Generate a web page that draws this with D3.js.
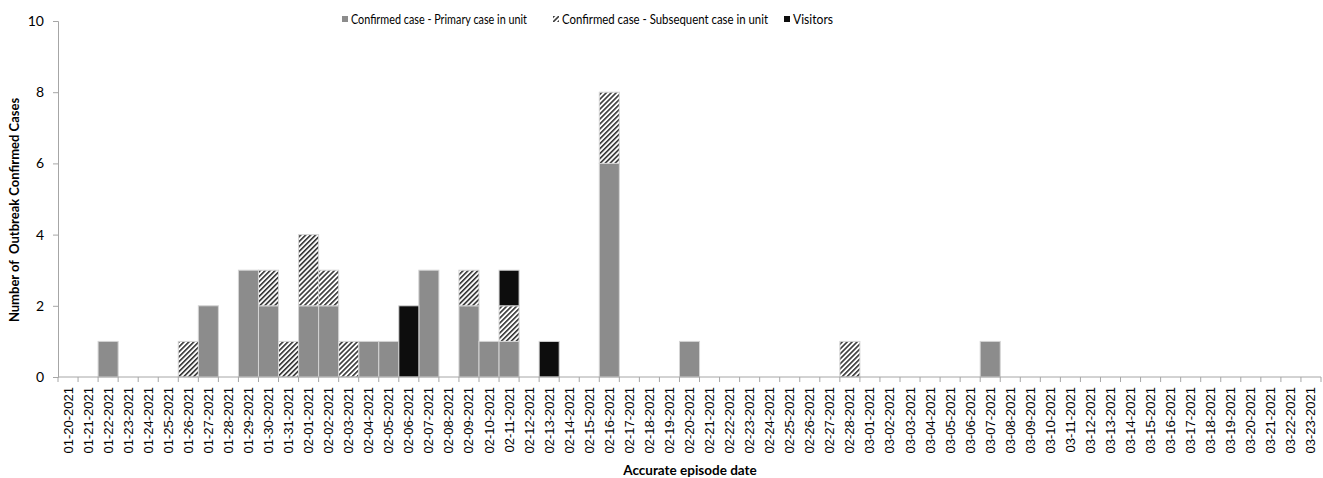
<!DOCTYPE html>
<html>
<head>
<meta charset="utf-8">
<script src="https://cdn.jsdelivr.net/npm/d3@7"></script>
<style>
  body { margin: 0; background: #fff; }
  svg { display: block; }
</style>
</head>
<body>
<div id="chart"></div>
<script>
// dates from the x axis, one per day
var dates = [
  "01-20-2021","01-21-2021","01-22-2021","01-23-2021","01-24-2021","01-25-2021","01-26-2021","01-27-2021","01-28-2021","01-29-2021","01-30-2021","01-31-2021",
  "02-01-2021","02-02-2021","02-03-2021","02-04-2021","02-05-2021","02-06-2021","02-07-2021","02-08-2021","02-09-2021","02-10-2021","02-11-2021","02-12-2021","02-13-2021","02-14-2021",
  "02-15-2021","02-16-2021","02-17-2021","02-18-2021","02-19-2021","02-20-2021","02-21-2021","02-22-2021","02-23-2021","02-24-2021","02-25-2021","02-26-2021","02-27-2021","02-28-2021",
  "03-01-2021","03-02-2021","03-03-2021","03-04-2021","03-05-2021","03-06-2021","03-07-2021","03-08-2021","03-09-2021","03-10-2021","03-11-2021","03-12-2021","03-13-2021","03-14-2021",
  "03-15-2021","03-16-2021","03-17-2021","03-18-2021","03-19-2021","03-20-2021","03-21-2021","03-22-2021","03-23-2021"
];

// counts per date: primary, subsequent, visitors
var primary = [
  0,0,1,0,0,0,0,2,0,3,2,0,
  2,2,0,1,1,0,3,0,2,1,1,0,0,0,
  0,6,0,0,0,1,0,0,0,0,0,0,0,0,
  0,0,0,0,0,0,1,0,0,0,0,0,0,0,
  0,0,0,0,0,0,0,0,0
];
var subsequent = [
  0,0,0,0,0,0,1,0,0,0,1,1,
  2,1,1,0,0,0,0,0,1,0,1,0,0,0,
  0,2,0,0,0,0,0,0,0,0,0,0,0,1,
  0,0,0,0,0,0,0,0,0,0,0,0,0,0,
  0,0,0,0,0,0,0,0,0
];
var visitors = [
  0,0,0,0,0,0,0,0,0,0,0,0,
  0,0,0,0,0,2,0,0,0,0,1,0,1,0,
  0,0,0,0,0,0,0,0,0,0,0,0,0,0,
  0,0,0,0,0,0,0,0,0,0,0,0,0,0,
  0,0,0,0,0,0,0,0,0
];

var seriesKeys = ["primary", "subsequent", "visitors"];
var seriesLabels = ["Confirmed case - Primary case in unit", "Confirmed case - Subsequent case in unit", "Visitors"];
var yTicks = [0, 2, 4, 6, 8, 10];

var width = 1323,
    height = 478,
    margin = {top: 21, right: 2, bottom: 101, left: 58};

var svg = d3.select("#chart").append("svg")
    .attr("width", width)
    .attr("height", height);

// hatch pattern for subsequent cases
var defs = svg.append("defs");
var pat = defs.append("pattern")
    .attr("id", "hatch")
    .attr("patternUnits", "userSpaceOnUse")
    .attr("width", 3.5)
    .attr("height", 3.5)
    .attr("patternTransform", "rotate(45)");
pat.append("rect").attr("width", 3.5).attr("height", 3.5).attr("fill", "#fff");
pat.append("rect").attr("x", 0).attr("width", 1.6).attr("height", 3.5).attr("fill", "#333");

var colors = {primary: "#8c8c8c", subsequent: "url(#hatch)", visitors: "#0d0d0d"};

var rows = dates.map(function(d, i) {
  return {date: d, primary: primary[i], subsequent: subsequent[i], visitors: visitors[i]};
});

var stack = d3.stack().keys(seriesKeys)(rows);

var x = d3.scaleBand()
    .domain(dates)
    .range([margin.left, width - margin.right])
    .padding(0);

var y = d3.scaleLinear()
    .domain([0, 10])
    .range([height - margin.bottom, margin.top]);

// bars
svg.append("g").selectAll("g")
  .data(stack)
  .enter().append("g")
    .attr("fill", function(d) { return colors[d.key]; })
  .selectAll("rect")
  .data(function(d) { return d.filter(function(p) { return p[1] > p[0]; }); })
  .enter().append("rect")
    .attr("x", function(d) { return x(d.data.date); })
    .attr("width", x.bandwidth())
    .attr("y", function(d) { return y(d[1]); })
    .attr("height", function(d) { return y(d[0]) - y(d[1]); })
    .attr("stroke", "#d4d4d4")
    .attr("stroke-width", 1);

// x axis
var xAxis = svg.append("g")
    .attr("transform", "translate(0," + (height - margin.bottom) + ")");
xAxis.append("line")
    .attr("x1", margin.left).attr("x2", width - margin.right)
    .attr("stroke", "#a6a6a6");
xAxis.selectAll(".tk")
  .data(dates.concat(["end"]))
  .enter().append("line")
    .attr("x1", function(d, i) { return i < dates.length ? x(d) : x.range()[1]; })
    .attr("x2", function(d, i) { return i < dates.length ? x(d) : x.range()[1]; })
    .attr("y1", 0).attr("y2", 5)
    .attr("stroke", "#a6a6a6");
xAxis.selectAll("text")
  .data(dates)
  .enter().append("text")
    .text(function(d) { return d; })
    .attr("transform", function(d) {
      return "translate(" + (x(d) + x.bandwidth() / 2 + 4.5) + ",10) rotate(-90)";
    })
    .attr("text-anchor", "end")
    .attr("font-family", "'Liberation Sans', Arial, sans-serif")
    .attr("font-size", "13px")
    .attr("fill", "#000");

// y axis
var yAxis = svg.append("g")
    .attr("transform", "translate(" + margin.left + ",0)")
    .call(d3.axisLeft(y).tickValues(yTicks).tickSize(5).tickPadding(9));
yAxis.select(".domain").attr("stroke", "#a6a6a6");
yAxis.selectAll(".tick line").attr("stroke", "#a6a6a6");
yAxis.selectAll(".tick text")
    .attr("font-family", "Lato, 'Open Sans', sans-serif")
    .attr("font-size", "14px")
    .attr("fill", "#000");

// axis titles
svg.append("text")
    .text("Number of  Outbreak Confirmed Cases")
    .attr("transform", "translate(19,210) rotate(-90)")
    .attr("text-anchor", "middle")
    .style("white-space", "pre")
    .attr("font-family", "Lato, 'Open Sans', sans-serif")
    .attr("font-weight", "bold")
    .attr("font-size", "13px");

svg.append("text")
    .text("Accurate episode date")
    .attr("x", 690)
    .attr("y", 475)
    .attr("text-anchor", "middle")
    .attr("font-family", "Lato, 'Open Sans', sans-serif")
    .attr("font-weight", "bold")
    .attr("font-size", "13.5px");

// legend
var legendX = [342, 553, 784];
var legend = svg.append("g").selectAll("g")
  .data(seriesKeys)
  .enter().append("g")
    .attr("transform", function(d, i) { return "translate(" + legendX[i] + ",16)"; });
legend.append("rect")
    .attr("width", 6).attr("height", 6)
    .attr("fill", function(d) { return colors[d]; });
legend.append("text")
    .text(function(d, i) { return seriesLabels[i]; })
    .attr("x", 9)
    .attr("y", 8)
    .attr("font-family", "Lato, 'Open Sans', sans-serif")
    .attr("font-size", "13px")
    .attr("fill", "#000")
    .each(function(d, i) {
      // reference legend is set in a narrow face; squeeze to its measured widths
      var w = [176, 206, 40][i];
      if (this.getComputedTextLength() > w) {
        d3.select(this).attr("textLength", w).attr("lengthAdjust", "spacingAndGlyphs");
      }
    });
</script>
</body>
</html>
